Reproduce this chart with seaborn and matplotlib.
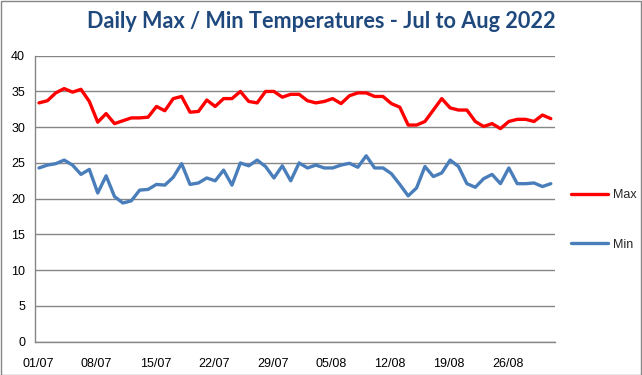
import numpy as np
import pandas as pd
import seaborn as sns
import matplotlib.pyplot as plt
import matplotlib.dates as mdates
from matplotlib.patches import Rectangle
from matplotlib.transforms import ScaledTranslation

# daily readings, 01/07/2022 - 31/08/2022
dates = pd.date_range("2022-07-01", "2022-08-31", freq="D")
max_temp = [33.4, 33.7, 34.8, 35.4, 34.9, 35.3, 33.6, 30.7, 31.9, 30.5,
            30.9, 31.3, 31.3, 31.4, 32.9, 32.3, 34.0, 34.3, 32.1, 32.2,
            33.8, 32.9, 34.0, 34.0, 35.0, 33.6, 33.4, 35.0, 35.0, 34.2,
            34.6, 34.6, 33.7, 33.4, 33.6, 34.0, 33.3, 34.4, 34.8, 34.8,
            34.3, 34.3, 33.3, 32.8, 30.3, 30.3, 30.8, 32.4, 34.0, 32.7,
            32.4, 32.4, 30.8, 30.1, 30.5, 29.8, 30.8, 31.1, 31.1, 30.8,
            31.7, 31.2]
min_temp = [24.3, 24.7, 24.9, 25.4, 24.7, 23.4, 24.1, 20.8, 23.2, 20.3,
            19.4, 19.7, 21.2, 21.3, 22.0, 21.9, 23.0, 24.9, 22.0, 22.2,
            22.9, 22.5, 24.0, 21.9, 25.0, 24.6, 25.4, 24.5, 22.9, 24.6,
            22.5, 25.0, 24.3, 24.7, 24.3, 24.3, 24.7, 24.95, 24.4, 26.0,
            24.3, 24.3, 23.5, 22.0, 20.4, 21.5, 24.5, 23.1, 23.6, 25.4,
            24.5, 22.1, 21.6, 22.8, 23.4, 22.1, 24.3, 22.1, 22.1, 22.2,
            21.7, 22.1]
series_names = ["Max", "Min"]
series_colors = {"Max": "#FF0000", "Min": "#4A7EBB"}

df = pd.DataFrame({"date": dates, "Max": max_temp, "Min": min_temp})
long_df = df.melt(id_vars="date", var_name="series", value_name="temp")
# Excel puts the points in the middle of each day slot
long_df["x"] = long_df["date"] + pd.Timedelta(hours=12)

sns.set_style("white")
plt.rcParams['font.family'] = ['Liberation Sans', 'DejaVu Sans']

fig = plt.figure(figsize=(6.42, 3.75), dpi=100)
ax = fig.add_axes([34.8 / 642, 33.3 / 375, (555 - 34.8) / 642, (341.7 - 55.7) / 375])

sns.lineplot(data=long_df, x="x", y="temp", hue="series", hue_order=series_names,
             palette=series_colors, linewidth=2.4, ax=ax, legend=True)

ax.set_ylim(0, 40)
ax.set_yticks(np.arange(0, 41, 5))
ax.set_xlim(dates[0], dates[-1] + pd.Timedelta(days=1))
ax.set_xticks(dates[::7])
ax.xaxis.set_major_formatter(mdates.DateFormatter("%d/%m"))
ax.set_xlabel("")
ax.set_ylabel("")

grid_col = "#868686"
ax.grid(axis="y", color=grid_col, linewidth=1)
ax.set_axisbelow(True)
for side in ["top", "right"]:
    ax.spines[side].set_visible(False)
for side in ["left", "bottom"]:
    ax.spines[side].set_color(grid_col)
    ax.spines[side].set_linewidth(1)
ax.tick_params(axis="both", which="major", length=4, width=1, color=grid_col,
               labelsize=9, labelcolor="#000000", direction="out")
ax.tick_params(axis="x", pad=8)
ax.tick_params(axis="y", pad=3)
for lab in ax.get_xticklabels():
    lab.set_transform(lab.get_transform() + ScaledTranslation(0.03, 0, fig.dpi_scale_trans))

handles, labels = ax.get_legend_handles_labels()
ax.legend(handles, labels, loc="center left", bbox_to_anchor=(560 / 642, 1 - 220 / 375),
          bbox_transform=fig.transFigure, frameon=False, fontsize=9,
          handlelength=2.9, labelspacing=3.0, handletextpad=0.4)

fig.text(0.5, 1 - 22 / 375, "Daily Max / Min Temperatures - Jul to Aug 2022",
         ha="center", va="center", fontsize=15.6, fontweight="bold",
         color="#1F497D", family=["Lato", "DejaVu Sans"])

fig.patches.append(Rectangle((0.5 / 642, 0.5 / 375), 640.5 / 642, 373.5 / 375,
                             transform=fig.transFigure, fill=False,
                             edgecolor=grid_col, linewidth=1))

plt.savefig("out.png", dpi=100)
